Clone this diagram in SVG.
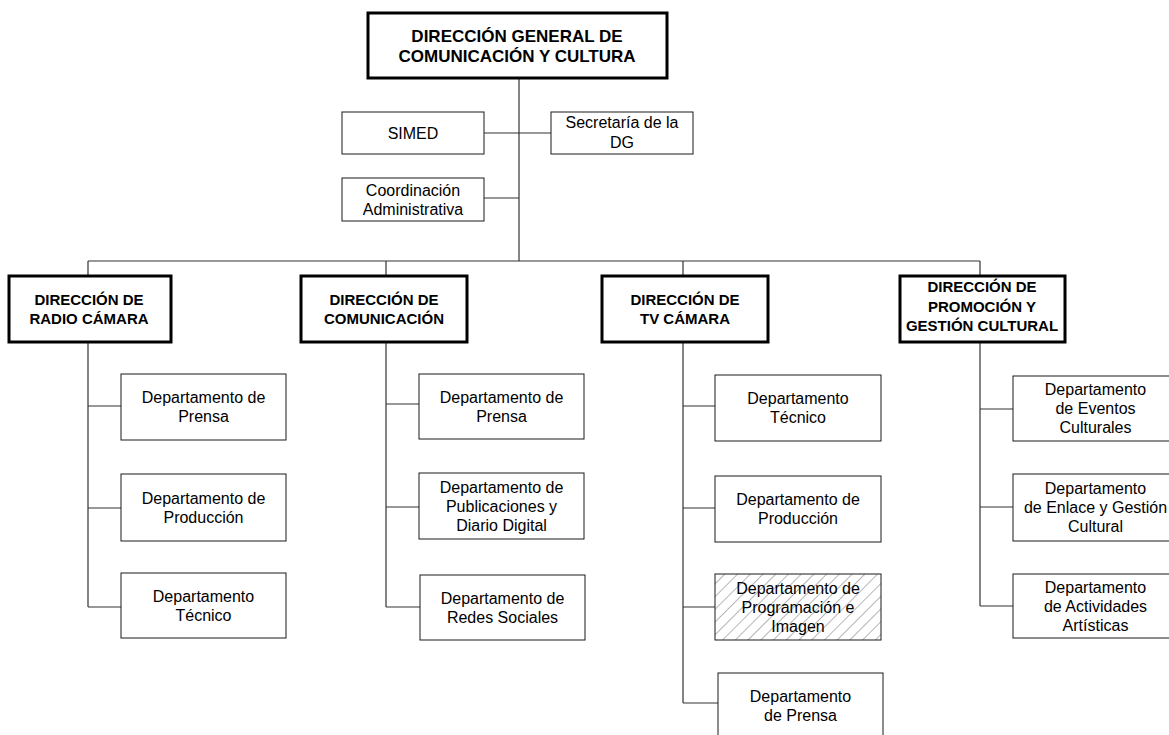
<svg xmlns="http://www.w3.org/2000/svg" width="1169" height="735" viewBox="0 0 1169 735">
<style>
.bg{fill:#ffffff}
.box{fill:#ffffff;stroke:#1a1a1a;stroke-width:1}
.dir{fill:#ffffff;stroke:#000000;stroke-width:3}
.hatch{fill:url(#hatch);stroke:#1a1a1a;stroke-width:1}
.t{font-family:"Liberation Sans",Arial,sans-serif;font-size:16px;fill:#000;text-anchor:middle}
.b{font-family:"Liberation Sans",Arial,sans-serif;font-size:15px;font-weight:bold;fill:#000;text-anchor:middle}
.bt{font-family:"Liberation Sans",Arial,sans-serif;font-size:17px;font-weight:bold;fill:#000;text-anchor:middle}
.ln{fill:none;stroke:#333333;stroke-width:1.2}
</style>
<defs>
<pattern id="hatch" patternUnits="userSpaceOnUse" width="9" height="9" patternTransform="rotate(45)">
<rect width="9" height="9" fill="#ffffff"/>
<line x1="0" y1="0" x2="0" y2="9" stroke="#7a7a7a" stroke-width="1.1"/>
</pattern>
</defs>
<rect class="bg" x="0" y="0" width="1169" height="735"/>

<g id="connectors">
<path class="ln" d="M519 78 V261"/>
<path class="ln" d="M484 133 H551"/>
<path class="ln" d="M484 198 H519"/>
<path class="ln" d="M88 261 H980"/>
<path class="ln" d="M88 261 V276 M386 261 V276 M683 261 V276 M980 261 V276"/>
<path class="ln" d="M88 342 V607 M88 406 H121 M88 508 H121 M88 607 H121"/>
<path class="ln" d="M386 342 V607 M386 404 H419 M386 507 H419 M386 607 H420"/>
<path class="ln" d="M683 342 V703 M683 406 H715 M683 508 H715 M683 607 H715 M683 703 H718"/>
<path class="ln" d="M980 342 V606 M980 409 H1013 M980 507 H1013 M980 606 H1013"/>
</g>

<g id="n-dg">
<rect class="dir" x="368" y="13" width="299" height="65"/>
<text class="bt" x="517" y="42">DIRECCIÓN GENERAL DE</text>
<text class="bt" x="517" y="62">COMUNICACIÓN Y CULTURA</text>
</g>
<g id="n-simed">
<rect class="box" x="342" y="112" width="142" height="42"/>
<text class="t" x="413" y="139">SIMED</text>
</g>
<g id="n-secretaria">
<rect class="box" x="551" y="112" width="142" height="42"/>
<text class="t" x="622" y="128">Secretaría de la</text>
<text class="t" x="622" y="147.5">DG</text>
</g>
<g id="n-coord">
<rect class="box" x="342" y="178" width="142" height="43"/>
<text class="t" x="413" y="195.5">Coordinación</text>
<text class="t" x="413" y="214.5">Administrativa</text>
</g>

<g id="n-radio">
<rect class="dir" x="9" y="276" width="162" height="66"/>
<text class="b" x="89" y="305">DIRECCIÓN DE</text>
<text class="b" x="89" y="324">RADIO CÁMARA</text>
</g>
<g id="n-com">
<rect class="dir" x="301" y="276" width="166" height="66"/>
<text class="b" x="384" y="305">DIRECCIÓN DE</text>
<text class="b" x="384" y="324">COMUNICACIÓN</text>
</g>
<g id="n-tv">
<rect class="dir" x="602" y="276" width="166" height="66"/>
<text class="b" x="685" y="305">DIRECCIÓN DE</text>
<text class="b" x="685" y="324">TV CÁMARA</text>
</g>
<g id="n-promo">
<rect class="dir" x="900" y="276" width="165" height="66"/>
<text class="b" x="982" y="292">DIRECCIÓN DE</text>
<text class="b" x="982" y="311.5">PROMOCIÓN Y</text>
<text class="b" x="982" y="331">GESTIÓN CULTURAL</text>
</g>

<g id="n-radio-prensa">
<rect class="box" x="121" y="374" width="165" height="66"/>
<text class="t" x="203.5" y="403">Departamento de</text>
<text class="t" x="203.5" y="422">Prensa</text>
</g>
<g id="n-radio-prod">
<rect class="box" x="121" y="474" width="165" height="67"/>
<text class="t" x="203.5" y="503.5">Departamento de</text>
<text class="t" x="203.5" y="522.5">Producción</text>
</g>
<g id="n-radio-tec">
<rect class="box" x="121" y="573" width="165" height="65"/>
<text class="t" x="203.5" y="602">Departamento</text>
<text class="t" x="203.5" y="621">Técnico</text>
</g>

<g id="n-com-prensa">
<rect class="box" x="419" y="374" width="165" height="65"/>
<text class="t" x="501.5" y="402.5">Departamento de</text>
<text class="t" x="501.5" y="421.5">Prensa</text>
</g>
<g id="n-com-pub">
<rect class="box" x="419" y="473" width="165" height="66"/>
<text class="t" x="501.5" y="492.5">Departamento de</text>
<text class="t" x="501.5" y="511.5">Publicaciones y</text>
<text class="t" x="501.5" y="530.5">Diario Digital</text>
</g>
<g id="n-com-redes">
<rect class="box" x="420" y="575" width="165" height="65"/>
<text class="t" x="502.5" y="603.5">Departamento de</text>
<text class="t" x="502.5" y="622.5">Redes Sociales</text>
</g>

<g id="n-tv-tec">
<rect class="box" x="715" y="375" width="166" height="66"/>
<text class="t" x="798" y="404">Departamento</text>
<text class="t" x="798" y="423">Técnico</text>
</g>
<g id="n-tv-prod">
<rect class="box" x="715" y="476" width="166" height="66"/>
<text class="t" x="798" y="505">Departamento de</text>
<text class="t" x="798" y="524">Producción</text>
</g>
<g id="n-tv-prog">
<rect class="hatch" x="715" y="574" width="166" height="66"/>
<text class="t" x="798" y="593.5">Departamento de</text>
<text class="t" x="798" y="612.5">Programación e</text>
<text class="t" x="798" y="631.5">Imagen</text>
</g>
<g id="n-tv-prensa">
<rect class="box" x="718" y="673" width="165" height="66"/>
<text class="t" x="800.5" y="702">Departamento</text>
<text class="t" x="800.5" y="721">de Prensa</text>
</g>

<g id="n-promo-eventos">
<rect class="box" x="1013" y="376" width="165" height="65"/>
<text class="t" x="1095.5" y="395">Departamento</text>
<text class="t" x="1095.5" y="414">de Eventos</text>
<text class="t" x="1095.5" y="433">Culturales</text>
</g>
<g id="n-promo-enlace">
<rect class="box" x="1013" y="474" width="165" height="67"/>
<text class="t" x="1095.5" y="494">Departamento</text>
<text class="t" x="1095.5" y="513">de Enlace y Gestión</text>
<text class="t" x="1095.5" y="532">Cultural</text>
</g>
<g id="n-promo-act">
<rect class="box" x="1013" y="574" width="165" height="64"/>
<text class="t" x="1095.5" y="592.5">Departamento</text>
<text class="t" x="1095.5" y="611.5">de Actividades</text>
<text class="t" x="1095.5" y="630.5">Artísticas</text>
</g>
</svg>
